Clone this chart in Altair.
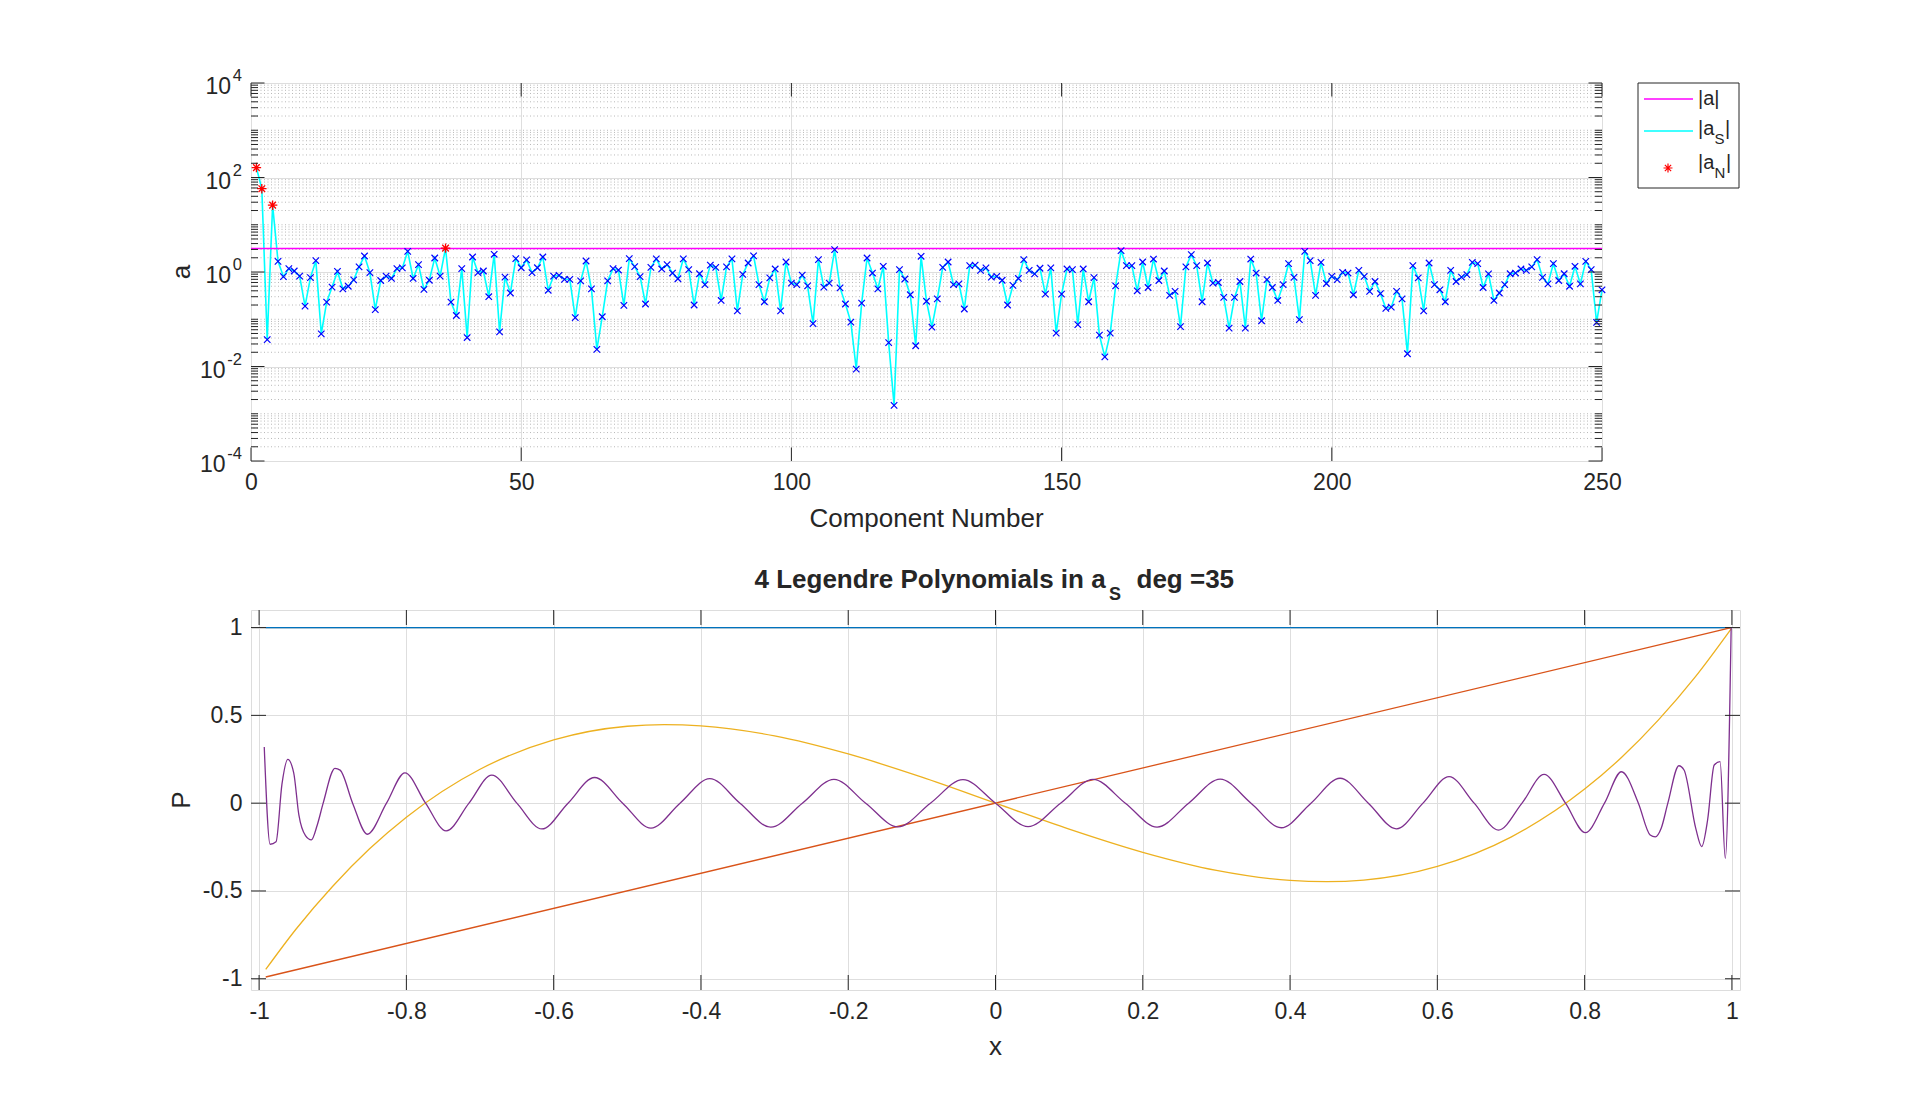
import altair as alt
import pandas as pd

FONT = "Liberation Sans"
AX = "#262626"
GRID = "#DEDEDE"

# ---------------- top panel data ----------------
components = list(range(1, 251))
a_s = [
    162, 58, 0.037, 26, 1.68, 0.8, 1.18, 1.05, 0.82, 0.19,
    0.76, 1.74, 0.049, 0.23, 0.48, 1.03, 0.44, 0.5, 0.68, 1.28,
    2.18, 0.97, 0.16, 0.66, 0.82, 0.73, 1.18, 1.22, 2.74, 0.73,
    1.43, 0.43, 0.67, 1.98, 0.82, 3.2, 0.23, 0.12, 1.18, 0.041,
    2.08, 0.97, 1.05, 0.3, 2.37, 0.054, 0.78, 0.36, 1.92, 1.23,
    1.8, 0.97, 1.23, 2.08, 0.41, 0.82, 0.85, 0.7, 0.7, 0.108,
    0.65, 1.71, 0.44, 0.023, 0.113, 0.65, 1.18, 1.1, 0.197, 1.92,
    1.3, 0.8, 0.21, 1.25, 1.9, 1.16, 1.43, 0.95, 0.72, 1.9,
    1.12, 0.2, 0.92, 0.54, 1.4, 1.25, 0.25, 1.28, 1.9, 0.15,
    0.89, 1.55, 2.2, 0.54, 0.235, 0.75, 1.16, 0.15, 1.63, 0.58,
    0.54, 0.86, 0.51, 0.081, 1.83, 0.48, 0.58, 2.97, 0.46, 0.21,
    0.087, 0.0088, 0.22, 1.98, 0.95, 0.44, 1.32, 0.032, 0.0015, 1.12,
    0.71, 0.33, 0.0275, 2.15, 0.24, 0.068, 0.27, 1.25, 1.63, 0.54,
    0.56, 0.165, 1.36, 1.4, 1.08, 1.22, 0.78, 0.81, 0.67, 0.2,
    0.52, 0.73, 1.83, 1.08, 0.91, 1.2, 0.34, 1.22, 0.051, 0.34,
    1.16, 1.12, 0.077, 1.16, 0.235, 0.76, 0.046, 0.016, 0.051, 0.51,
    2.83, 1.36, 1.36, 0.4, 1.63, 0.47, 1.88, 0.66, 1.05, 0.32,
    0.39, 0.07, 1.28, 2.33, 1.36, 0.235, 1.55, 0.58, 0.6, 0.29,
    0.065, 0.29, 0.63, 0.065, 1.88, 0.95, 0.093, 0.69, 0.47, 0.25,
    0.54, 1.5, 0.77, 0.098, 2.74, 1.74, 0.32, 1.6, 0.57, 0.81,
    0.69, 0.98, 0.95, 0.33, 1.08, 0.81, 0.39, 0.63, 0.35, 0.17,
    0.18, 0.39, 0.27, 0.0186, 1.36, 0.75, 0.15, 1.55, 0.54, 0.42,
    0.235, 1.08, 0.63, 0.78, 0.88, 1.6, 1.5, 0.47, 0.91, 0.25,
    0.36, 0.54, 0.92, 0.95, 1.16, 1.08, 1.28, 1.83, 0.77, 0.56,
    1.5, 0.66, 0.92, 0.5, 1.32, 0.56, 1.68, 1.12, 0.086, 0.42,
]
n_components = [1, 2, 4, 36]
a_norm_x = [0, 250]
a_norm_y = [3.13, 3.13]

top_x_ticks = [0, 50, 100, 150, 200, 250]
top_y_ticks = [1e-4, 1e-2, 1e0, 1e2, 1e4]
top_y_exps = ["-4", "-2", "0", "2", "4"]
top_minor = [m * 10.0 ** e for e in range(-4, 4) for m in range(1, 10)
             if not (m == 1 and e % 2 == 0)]

# ---------------- bottom panel data ----------------
bot_x_ticks = [-1, -0.8, -0.6, -0.4, -0.2, 0, 0.2, 0.4, 0.6, 0.8, 1]
bot_y_ticks = [-1, -0.5, 0, 0.5, 1]

p0_x = [-0.991, 0.999]
p0_y = [1.0, 1.0]
p1_x = [-0.991, 0.999]
p1_y = [-0.99, 0.999]
p3_x = [-0.991, -0.95, -0.9, -0.85, -0.8, -0.7, -0.6, -0.5, -0.45, -0.4, -0.3,
        -0.2, -0.1, 0, 0.1, 0.2, 0.3, 0.4, 0.45, 0.5, 0.6, 0.7, 0.8, 0.85,
        0.9, 0.95, 0.999]
p3_y = [-0.947, -0.718, -0.473, -0.26, -0.08, 0.193, 0.36, 0.438, 0.447, 0.44,
        0.383, 0.28, 0.148, 0, -0.148, -0.28, -0.383, -0.44, -0.447, -0.438,
        -0.36, -0.193, 0.08, 0.26, 0.473, 0.718, 0.993]
p35_x = [-0.993, -0.985, -0.977, -0.969, -0.961, -0.953, -0.946, -0.937, -0.929,
         -0.921, -0.913, -0.897, -0.890, -0.873, -0.853, -0.827, -0.802, -0.774,
         -0.746, -0.715, -0.684, -0.650, -0.616, -0.5805, -0.5444, -0.5063,
         -0.4679, -0.4284, -0.388, -0.347, -0.3051, -0.2623, -0.2194, -0.1763,
         -0.1325, -0.0884, -0.0442, 0.0, 0.0442, 0.0884, 0.1325, 0.1763, 0.2194,
         0.2623, 0.3051, 0.347, 0.388, 0.4284, 0.4679, 0.5063, 0.5444, 0.5805,
         0.616, 0.650, 0.683, 0.715, 0.745, 0.774, 0.801, 0.827, 0.850, 0.873,
         0.889, 0.896, 0.904, 0.913, 0.928, 0.935, 0.951, 0.959, 0.967, 0.976,
         0.984, 0.991, 0.999]
p35_y = [0.32, -0.234, -0.22, 0.107, 0.249, 0.173, -0.067, -0.185, -0.209,
         -0.124, 0.0, 0.198, 0.188, 0.0, -0.177, 0.0, 0.173, 0.0,
         -0.158, 0.0, 0.16, 0.0, -0.147, 0.0, 0.146, 0.0,
         -0.142, 0.0, 0.14, 0.0, -0.137, 0.0, 0.136, 0.0,
         -0.135, 0.0, 0.134, 0.0, -0.134, 0.0, 0.135, 0.0, -0.136,
         0.0, 0.137, 0.0, -0.14, 0.0, 0.142, 0.0, -0.146, 0.0,
         0.151, 0.0, -0.153, 0.0, 0.164, 0.0, -0.168, 0.0, 0.179, 0.0,
         -0.181, -0.192, -0.143, 0.0, 0.213, 0.189, -0.145, -0.247, -0.096, 0.217,
         0.236, -0.314, 1.0]

# ---------------- sizes ----------------
TW, TH = 1351, 378
BW, BH = 1489, 380
TICKF = 23

X_SHAPE = "M-1,-1L1,1M-1,1L1,-1"
STAR_SHAPE = "M0,-1L0,1M-1,0L1,0M-0.7,-0.7L0.7,0.7M-0.7,0.7L0.7,-0.7"

df_top = pd.DataFrame({"k": components, "v": a_s})
df_top["isN"] = df_top["k"].isin(n_components)
df_norm = pd.DataFrame({"k": a_norm_x, "v": a_norm_y})
df_yt = pd.DataFrame({"pos": top_y_ticks, "exp": top_y_exps})
df_minor = pd.DataFrame({"pos": top_minor})
df_xt = pd.DataFrame({"pos": top_x_ticks})
one = pd.DataFrame({"d": [0]})

xs_top = alt.Scale(domain=[0, 250], nice=False, zero=False)
ys_top = alt.Scale(type="log", domain=[1e-4, 1e4], nice=False)

def txt(text, x, y, size, **kw):
    return alt.Chart(one).mark_text(text=text, font=FONT, fontSize=size,
                                    color=kw.pop("color", AX), **kw).encode(
        x=alt.value(x), y=alt.value(y))

minor_grid = alt.Chart(df_minor).mark_rule(color="#B8B8B8", strokeWidth=1,
                                           strokeDash=[1, 2.5]).encode(
    y=alt.Y("pos:Q", scale=ys_top))

cyan = alt.Chart(df_top).mark_line(color="#00FFFF", strokeWidth=1.6).encode(
    x=alt.X("k:Q", scale=xs_top,
            axis=alt.Axis(values=top_x_ticks, title=None, grid=True, gridColor=GRID,
                          ticks=False, tickSize=0, domain=False, labelFontSize=TICKF,
                          labelPadding=10, labelFlush=False, labelOverlap=False,
                          labelColor=AX, labelFont=FONT)),
    y=alt.Y("v:Q", scale=ys_top,
            axis=alt.Axis(values=top_y_ticks, title=None, grid=True, gridColor=GRID,
                          labels=False, ticks=False, tickSize=0, domain=False)),
)
magenta = alt.Chart(df_norm).mark_line(color="#FF00FF", strokeWidth=1.5).encode(
    x=alt.X("k:Q", scale=xs_top), y=alt.Y("v:Q", scale=ys_top))
xmarks = alt.Chart(df_top).transform_filter("!datum.isN").mark_point(
    shape=X_SHAPE, size=42, filled=False, stroke="#0000FF", strokeWidth=1.2,
    opacity=1).encode(
    x=alt.X("k:Q", scale=xs_top), y=alt.Y("v:Q", scale=ys_top))
stars = alt.Chart(df_top).transform_filter("datum.isN").mark_point(
    shape=STAR_SHAPE, size=90, filled=False, stroke="#FF0000", strokeWidth=1.3,
    opacity=1).encode(
    x=alt.X("k:Q", scale=xs_top), y=alt.Y("v:Q", scale=ys_top))

def hticks(df, field, scale, x0, x1):
    return alt.Chart(df).mark_rule(color=AX, strokeWidth=1).encode(
        y=alt.Y(field, scale=scale), x=alt.value(x0), x2=alt.value(x1))

def vticks(df, field, scale, y0, y1):
    return alt.Chart(df).mark_rule(color=AX, strokeWidth=1).encode(
        x=alt.X(field, scale=scale), y=alt.value(y0), y2=alt.value(y1))

top_ticks = [
    hticks(df_yt, "pos:Q", ys_top, 0, 13.5),
    hticks(df_yt, "pos:Q", ys_top, TW - 13.5, TW),
    hticks(df_minor, "pos:Q", ys_top, 0, 7),
    hticks(df_minor, "pos:Q", ys_top, TW - 7, TW),
    vticks(df_xt, "pos:Q", xs_top, 0, 13.5),
    vticks(df_xt, "pos:Q", xs_top, TH - 13.5, TH),
]

ten_pos = alt.Chart(df_yt).transform_filter("datum.pos > 0.5").mark_text(
    text="10", font=FONT, fontSize=TICKF, align="right", baseline="middle",
    dy=4, color=AX).encode(
    y=alt.Y("pos:Q", scale=ys_top), x=alt.value(-20))
ten_neg = alt.Chart(df_yt).transform_filter("datum.pos < 0.5").mark_text(
    text="10", font=FONT, fontSize=TICKF, align="right", baseline="middle",
    dy=4, color=AX).encode(
    y=alt.Y("pos:Q", scale=ys_top), x=alt.value(-25.5))
exps = alt.Chart(df_yt).mark_text(font=FONT, fontSize=16.5, align="right",
                                  baseline="middle", dy=-7, color=AX).encode(
    y=alt.Y("pos:Q", scale=ys_top), x=alt.value(-9), text="exp:N")

# legend (drawn by hand for the subscripts)
LX = 1387
legend = [
    alt.Chart(one).mark_rect(fill="white", stroke=AX, strokeWidth=1).encode(
        x=alt.value(LX), x2=alt.value(LX + 101), y=alt.value(0), y2=alt.value(105)),
    alt.Chart(one).mark_rule(color="#FF00FF", strokeWidth=1.5).encode(
        x=alt.value(LX + 6), x2=alt.value(LX + 55), y=alt.value(16)),
    alt.Chart(one).mark_rule(color="#00FFFF", strokeWidth=1.5).encode(
        x=alt.value(LX + 6), x2=alt.value(LX + 55), y=alt.value(48)),
    alt.Chart(one).mark_point(shape=STAR_SHAPE, size=80, filled=False,
                              stroke="#FF0000", strokeWidth=1.2, opacity=1).encode(
        x=alt.value(LX + 30), y=alt.value(85)),
    txt("|a|", LX + 60, 16, 20, align="left", baseline="middle"),
    txt("|a", LX + 60, 46, 20, align="left", baseline="middle"),
    txt("S", LX + 76.5, 56, 15, align="left", baseline="middle"),
    txt("|", LX + 87, 46, 20, align="left", baseline="middle"),
    txt("|a", LX + 60, 80, 20, align="left", baseline="middle"),
    txt("N", LX + 76.5, 90, 15, align="left", baseline="middle"),
    txt("|", LX + 88, 80, 20, align="left", baseline="middle"),
]

top = alt.layer(
    minor_grid, cyan, magenta, xmarks, stars, *top_ticks, ten_pos, ten_neg, exps,
    txt("Component Number", TW / 2, TH + 58, 26, align="center", baseline="middle"),
    txt("a", -69, TH / 2, 26, align="center", baseline="middle", angle=270),
    *legend,
).properties(width=TW, height=TH)

# ---------------- bottom panel ----------------
xs_b = alt.Scale(domain=[-1.011, 1.011], nice=False, zero=False)
ys_b = alt.Scale(domain=[-1.064, 1.1], nice=False, zero=False)

def curve(xv, yv, color, interp="linear"):
    d = pd.DataFrame({"x": xv, "y": yv})
    return alt.Chart(d).mark_line(color=color, strokeWidth=1.3,
                                  interpolate=interp).encode(
        x=alt.X("x:Q", scale=xs_b), y=alt.Y("y:Q", scale=ys_b))

df_bx = pd.DataFrame({"pos": bot_x_ticks})
df_by = pd.DataFrame({"pos": bot_y_ticks})

blue = alt.Chart(pd.DataFrame({"x": p0_x, "y": p0_y})).mark_line(
    color="#0072BD", strokeWidth=1.3).encode(
    x=alt.X("x:Q", scale=xs_b,
            axis=alt.Axis(values=bot_x_ticks, title=None, grid=True, gridColor=GRID,
                          ticks=False, tickSize=0, domain=False, labelFontSize=TICKF,
                          labelPadding=10, labelFlush=False, labelOverlap=False,
                          labelColor=AX, labelFont=FONT,
                          labelExpr="'' + datum.value")),
    y=alt.Y("y:Q", scale=ys_b,
            axis=alt.Axis(values=bot_y_ticks, title=None, grid=True, gridColor=GRID,
                          ticks=False, tickSize=0, domain=False, labelFontSize=TICKF,
                          labelPadding=9, labelOverlap=False, labelColor=AX,
                          labelFont=FONT, labelExpr="'' + datum.value")),
)

bot_ticks = [
    hticks(df_by, "pos:Q", ys_b, 0, 15),
    hticks(df_by, "pos:Q", ys_b, BW - 15, BW),
    vticks(df_bx, "pos:Q", xs_b, 0, 15),
    vticks(df_bx, "pos:Q", xs_b, BH - 15, BH),
]

bottom = alt.layer(
    blue,
    curve(p1_x, p1_y, "#D95319"),
    curve(p3_x, p3_y, "#EDB120", "monotone"),
    curve(p35_x, p35_y, "#7E2F8E", "monotone"),
    *bot_ticks,
    txt("4 Legendre Polynomials in a", 503.5, -30, 26, align="left",
        baseline="middle", fontWeight="bold"),
    txt("S", 858, -15, 18, align="left", baseline="middle", fontWeight="bold"),
    txt("deg =35", 885.5, -30, 26, align="left", baseline="middle", fontWeight="bold"),
    txt("x", BW / 2, BH + 57, 26, align="center", baseline="middle"),
    txt("P", -69, BH / 2, 26, align="center", baseline="middle", angle=270),
).properties(width=BW, height=BH)

chart = alt.vconcat(top, bottom, spacing=33).properties(
    padding={"left": 160, "top": 59, "right": 10, "bottom": 10}
).configure_view(stroke=AX, strokeWidth=1.4).configure(font=FONT)

chart.save("out.html", embed_options={"renderer": "svg", "actions": False})
